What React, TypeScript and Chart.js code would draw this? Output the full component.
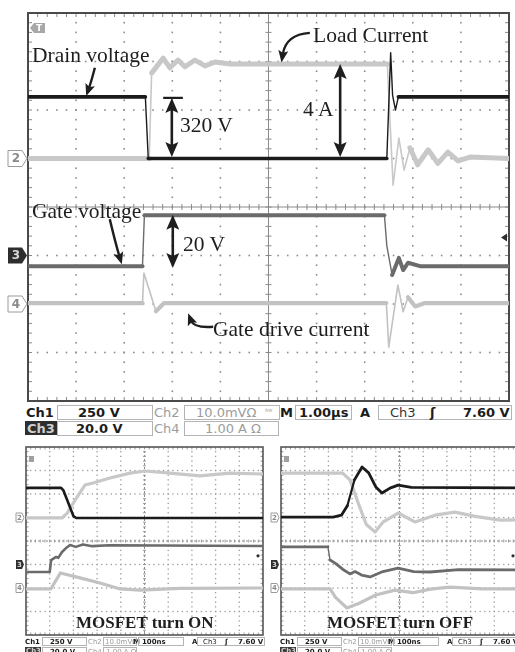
import React, { useEffect, useRef } from 'react';
import { Chart, registerables } from 'chart.js';
Chart.register(...registerables);

// ---- Values in screen divisions (x: 0..10 time div, y: -4..+4 div) ----
// Main capture, 1.00 µs/div
const mainCh1X = [0, 2.44, 2.50, 7.46, 7.50, 7.54, 7.58, 7.64, 7.70, 10];
const mainCh1Y = [2.27, 2.27, 1.0, 1.0, 2.1, 3.18, 2.3, 2.0, 2.27, 2.27];
const mainCh2X = [0, 2.52, 2.57, 2.81, 2.95, 3.12, 3.26, 3.47, 3.68, 3.89, 4.2, 7.47, 7.59, 7.71, 7.82, 7.94, 8.1, 8.32, 8.52, 8.73, 8.94, 9.19, 10];
const mainCh2Y = [1.0, 1.0, 2.76, 3.07, 2.87, 3.03, 2.89, 3.03, 2.91, 2.99, 2.95, 2.95, 0.45, 1.42, 0.76, 1.22, 0.87, 1.18, 0.9, 1.13, 0.95, 1.03, 1.0];
const mainCh3X = [0, 2.38, 2.42, 7.41, 7.46, 7.57, 7.71, 7.80, 7.90, 8.15, 10];
const mainCh3Y = [-1.22, -1.22, -0.17, -0.17, -0.8, -1.40, -1.05, -1.30, -1.15, -1.22, -1.22];
const mainCh4X = [0, 2.38, 2.41, 2.66, 2.83, 7.45, 7.50, 7.69, 7.80, 7.90, 8.05, 8.25, 10];
const mainCh4Y = [-1.98, -1.98, -1.36, -2.15, -1.98, -1.98, -2.89, -1.61, -2.16, -1.86, -2.05, -1.98, -1.98];

// Zoomed turn-on, 100 ns/div
const onCh1X = [0, 1.48, 1.58, 2.0, 2.12, 10];
const onCh1Y = [2.26, 2.26, 2.15, 1.06, 0.98, 0.98];
const onCh2X = [0, 1.52, 1.75, 2.07, 2.49, 2.83, 3.54, 4.39, 5.02, 6.08, 7.34, 8.6, 10];
const onCh2Y = [0.98, 0.98, 1.2, 1.74, 2.38, 2.47, 2.68, 2.89, 2.98, 2.89, 2.77, 2.89, 2.85];
const onCh3X = [0, 1.0, 1.06, 1.27, 1.36, 1.52, 1.69, 1.86, 2.1, 2.4, 2.8, 3.5, 10];
const onCh3Y = [-1.32, -1.32, -0.81, -0.68, -0.72, -0.47, -0.30, -0.17, -0.25, -0.15, -0.22, -0.18, -0.21];
const onCh4X = [0, 1.05, 1.45, 2.28, 3.12, 3.97, 4.8, 6.5, 10];
const onCh4Y = [-2.04, -2.04, -1.36, -1.57, -1.79, -2.04, -2.09, -2.02, -2.0];

// Zoomed turn-off, 100 ns/div
const offCh1X = [0, 2.2, 2.55, 2.8, 3.1, 3.42, 3.7, 4.0, 4.26, 4.6, 4.94, 5.5, 10];
const offCh1Y = [1.02, 1.02, 1.1, 1.5, 2.6, 3.15, 2.9, 2.3, 2.04, 2.25, 2.38, 2.28, 2.26];
const offCh2X = [0, 2.6, 2.91, 3.3, 3.6, 3.97, 4.3, 4.94, 5.3, 5.65, 6.5, 7.34, 8.2, 9.24, 10];
const offCh2Y = [2.89, 2.89, 2.6, 1.5, 0.7, 0.38, 0.8, 1.19, 1.0, 0.81, 1.1, 1.23, 1.05, 0.89, 0.9];
const offCh3X = [0, 1.98, 2.07, 2.3, 2.6, 2.91, 3.12, 3.4, 3.76, 4.3, 4.94, 5.6, 6.29, 7.5, 10];
const offCh3Y = [-0.25, -0.25, -0.81, -0.95, -1.2, -1.40, -1.30, -1.45, -1.53, -1.3, -1.15, -1.3, -1.32, -1.22, -1.23];
const offCh4X = [0, 2.07, 2.3, 2.78, 3.3, 4.0, 4.81, 5.57, 6.3, 7.13, 8.5, 10];
const offCh4Y = [-2.04, -2.04, -2.4, -2.85, -2.65, -2.3, -2.09, -2.2, -2.05, -1.96, -2.04, -2.04];

// channel reference markers (div)
const markerLabels = ['2', '3', '4'];
const markerLevels = [1.0, -1.0, -2.0];
const triggerLevel = -0.63;

// annotation arrows of the main capture (div units)
const mainArrows = [
  { kind: 'curve', from: [1.39, 2.87], ctrl: [1.32, 2.6], to: [1.21, 2.29] },
  { kind: 'double', x: 2.99, y0: 2.25, y1: 1.03, bar: [2.81, 3.22] },
  { kind: 'curve', from: [5.86, 3.59], ctrl: [5.36, 3.56], to: [5.27, 2.98] },
  { kind: 'double', x: 6.49, y0: 2.95, y1: 1.03 },
  { kind: 'curve', from: [1.70, -0.25], ctrl: [1.82, -0.75], to: [1.95, -1.18] },
  { kind: 'double', x: 3.01, y0: -0.16, y1: -1.26 },
  { kind: 'curve', from: [3.85, -2.47], ctrl: [3.45, -2.5], to: [3.33, -2.19] },
];

const mainLabels = [
  { text: 'Drain voltage', left: 32, top: 45 },
  { text: '320 V', left: 180, top: 115 },
  { text: 'Load Current', left: 313, top: 25 },
  { text: '4 A', left: 303, top: 99 },
  { text: 'Gate voltage', left: 32, top: 201 },
  { text: '20 V', left: 183, top: 234 },
  { text: 'Gate drive current', left: 213, top: 319 },
];

type Series = { x: number[]; y: number[]; color: string; width: number; thin: number };

function makePlugin(cfg: any) {
  return {
    id: 'scopeGraticule',
    beforeDatasetsDraw(chart: any) {
      const { ctx, chartArea: a } = chart;
      const X = (v: number) => chart.scales.x.getPixelForValue(v);
      const Y = (v: number) => chart.scales.y.getPixelForValue(v);
      ctx.save();
      ctx.fillStyle = cfg.dotColor;
      const d = cfg.dot;
      for (let i = 1; i < 10; i++) {
        if (i === 5) continue;
        const px = X(i);
        for (let k = 1; k < 40; k++) ctx.fillRect(px - d / 2, Y(-4 + k * 0.2) - d / 2, d, d);
      }
      for (let j = -3; j <= 3; j++) {
        if (j === 0) continue;
        const py = Y(j);
        for (let k = 1; k < 50; k++) ctx.fillRect(X(k * 0.2) - d / 2, py - d / 2, d, d);
      }
      ctx.strokeStyle = cfg.centerColor;
      ctx.lineWidth = cfg.centerWidth;
      ctx.setLineDash(cfg.centerDash);
      ctx.beginPath();
      ctx.moveTo(X(5), a.top); ctx.lineTo(X(5), a.bottom);
      ctx.moveTo(a.left, Y(0)); ctx.lineTo(a.right, Y(0));
      ctx.stroke();
      ctx.setLineDash([]);
      ctx.lineWidth = 1;
      ctx.strokeStyle = cfg.tickColor;
      const t = cfg.tick;
      ctx.beginPath();
      for (let k = 1; k < 50; k++) {
        const px = X(k * 0.2);
        ctx.moveTo(px, Y(0) - t); ctx.lineTo(px, Y(0) + t);
        ctx.moveTo(px, a.top); ctx.lineTo(px, a.top + t + 1);
        ctx.moveTo(px, a.bottom); ctx.lineTo(px, a.bottom - t - 1);
      }
      for (let k = 1; k < 40; k++) {
        const py = Y(-4 + k * 0.2);
        ctx.moveTo(X(5) - t, py); ctx.lineTo(X(5) + t, py);
        ctx.moveTo(a.left, py); ctx.lineTo(a.left + t + 1, py);
        ctx.moveTo(a.right, py); ctx.lineTo(a.right - t - 1, py);
      }
      ctx.stroke();
      ctx.lineWidth = cfg.borderWidth;
      ctx.strokeStyle = cfg.borderColor;
      ctx.strokeRect(a.left, a.top, a.width, a.height);
      ctx.restore();
    },
    afterDatasetsDraw(chart: any) {
      const { ctx } = chart;
      const X = (v: number) => chart.scales.x.getPixelForValue(v);
      const Y = (v: number) => chart.scales.y.getPixelForValue(v);
      ctx.save();
      ctx.strokeStyle = '#1e1e1e';
      ctx.fillStyle = '#1e1e1e';
      const head = (x0: number, y0: number, x1: number, y1: number, len: number, wid: number) => {
        const ang = Math.atan2(y1 - y0, x1 - x0);
        const c = Math.cos(ang), s = Math.sin(ang);
        ctx.beginPath();
        ctx.moveTo(x1, y1);
        ctx.lineTo(x1 - len * c + (wid / 2) * s, y1 - len * s - (wid / 2) * c);
        ctx.lineTo(x1 - len * 0.8 * c, y1 - len * 0.8 * s);
        ctx.lineTo(x1 - len * c - (wid / 2) * s, y1 - len * s + (wid / 2) * c);
        ctx.closePath();
        ctx.fill();
      };
      for (const ar of cfg.arrows || []) {
        if (ar.kind === 'double') {
          const px = X(ar.x), pa = Y(ar.y0), pb = Y(ar.y1);
          ctx.lineWidth = 2.6;
          ctx.beginPath(); ctx.moveTo(px, pa + 10); ctx.lineTo(px, pb - 10); ctx.stroke();
          head(px, pb, px, pa, 15, 13);
          head(px, pa, px, pb, 15, 13);
          if (ar.bar) {
            ctx.lineWidth = 2.2;
            ctx.beginPath(); ctx.moveTo(X(ar.bar[0]), pa); ctx.lineTo(X(ar.bar[1]), pa); ctx.stroke();
          }
        } else {
          const [fx, fy] = [X(ar.from[0]), Y(ar.from[1])];
          const [cx, cy] = [X(ar.ctrl[0]), Y(ar.ctrl[1])];
          const [tx, ty] = [X(ar.to[0]), Y(ar.to[1])];
          const ang = Math.atan2(ty - cy, tx - cx);
          ctx.lineWidth = 2.4;
          ctx.beginPath();
          ctx.moveTo(fx, fy);
          ctx.quadraticCurveTo(cx, cy, tx - 8 * Math.cos(ang), ty - 8 * Math.sin(ang));
          ctx.stroke();
          head(cx, cy, tx, ty, 12, 10);
        }
      }
      ctx.restore();
    },
    afterDraw(chart: any) {
      const { ctx, chartArea: a } = chart;
      const Y = (v: number) => chart.scales.y.getPixelForValue(v);
      ctx.save();
      const m = cfg.marker;
      markerLabels.forEach((lab, i) => {
        const py = Y(markerLevels[i]);
        const r = a.left - m.gap;
        const filled = lab === '3';
        ctx.beginPath();
        ctx.moveTo(r - m.w, py - m.h / 2);
        ctx.lineTo(r - m.tip, py - m.h / 2);
        ctx.lineTo(r, py);
        ctx.lineTo(r - m.tip, py + m.h / 2);
        ctx.lineTo(r - m.w, py + m.h / 2);
        ctx.closePath();
        if (filled) {
          ctx.fillStyle = '#2e2e2e';
          ctx.fill();
        } else {
          ctx.fillStyle = '#ffffff';
          ctx.fill();
          ctx.strokeStyle = '#9a9a9a';
          ctx.lineWidth = 1;
          ctx.stroke();
        }
        ctx.fillStyle = filled ? '#d8d8d8' : '#8a8a8a';
        ctx.font = `bold ${m.font}px "DejaVu Sans", sans-serif`;
        ctx.textAlign = 'center';
        ctx.textBaseline = 'middle';
        ctx.fillText(lab, r - m.w / 2 - m.tip / 3, py + 0.5);
      });
      // trigger level indicator on the right
      const ty = Y(triggerLevel);
      ctx.fillStyle = '#2e2e2e';
      if (cfg.big) {
        ctx.beginPath();
        ctx.moveTo(a.right - 8, ty);
        ctx.lineTo(a.right - 2, ty - 4);
        ctx.lineTo(a.right - 2, ty + 4);
        ctx.closePath();
        ctx.fill();
        // trigger tag top-left
        ctx.fillStyle = '#a8a8a8';
        ctx.beginPath();
        ctx.moveTo(a.left + 2, a.top + 15);
        ctx.lineTo(a.left + 6, a.top + 10);
        ctx.lineTo(a.left + 17, a.top + 10);
        ctx.lineTo(a.left + 17, a.top + 20);
        ctx.lineTo(a.left + 6, a.top + 20);
        ctx.closePath();
        ctx.fill();
        ctx.fillStyle = '#ffffff';
        ctx.font = 'bold 9px "DejaVu Sans", sans-serif';
        ctx.textAlign = 'center';
        ctx.textBaseline = 'middle';
        ctx.fillText('T', a.left + 11, a.top + 15.5);
      } else {
        ctx.beginPath();
        ctx.arc(a.right - 5, ty, 1.6, 0, Math.PI * 2);
        ctx.fill();
        ctx.fillStyle = '#a0a0a0';
        ctx.fillRect(a.left + 3, a.top + 9, 5, 6);
      }
      ctx.restore();
    },
  };
}

function Scope(props: any) {
  const ref = useRef<HTMLCanvasElement>(null);
  useEffect(() => {
    const canvas = ref.current!;
    const series: Series[] = props.series;
    const chart = new Chart(canvas, {
      type: 'line',
      data: {
        datasets: series.map((s) => ({
          data: s.x.map((x, i) => ({ x, y: s.y[i] })),
          borderColor: s.color,
          borderWidth: s.width,
          pointRadius: 0,
          tension: 0,
          fill: false,
          borderJoinStyle: 'round',
          borderCapStyle: 'round',
          segment: {
            borderWidth: (c: any) => {
              const dx = Math.abs(c.p1.x - c.p0.x);
              const dy = Math.abs(c.p1.y - c.p0.y);
              return dy > 3 * dx && dy > 12 ? s.thin : s.width;
            },
          },
        })),
      },
      options: {
        responsive: false,
        animation: false,
        events: [],
        layout: { padding: props.padding },
        plugins: { legend: { display: false }, tooltip: { enabled: false } },
        scales: {
          x: { type: 'linear', min: 0, max: 10, display: false },
          y: { type: 'linear', min: -4, max: 4, display: false },
        },
      } as any,
      plugins: [makePlugin(props.cfg)],
    });
    return () => chart.destroy();
  }, []);
  return (
    <canvas
      ref={ref}
      width={props.w}
      height={props.h}
      style={{ position: 'absolute', left: props.left, top: props.top, width: props.w, height: props.h }}
    />
  );
}

const C1 = '#1b1b1b';
const C2 = '#c8c8c8';
const C3 = '#6b6b6b';
const C4 = '#c2c2c2';

const mainSeries: Series[] = [
  { x: mainCh1X, y: mainCh1Y, color: C1, width: 3.6, thin: 1.4 },
  { x: mainCh3X, y: mainCh3Y, color: C3, width: 4, thin: 1.4 },
  { x: mainCh2X, y: mainCh2Y, color: C2, width: 5, thin: 1.6 },
  { x: mainCh4X, y: mainCh4Y, color: C4, width: 4.2, thin: 1.6 },
];
const onSeries: Series[] = [
  { x: onCh1X, y: onCh1Y, color: C1, width: 2.6, thin: 2 },
  { x: onCh3X, y: onCh3Y, color: C3, width: 2.6, thin: 1.4 },
  { x: onCh2X, y: onCh2Y, color: C2, width: 3.2, thin: 2 },
  { x: onCh4X, y: onCh4Y, color: C4, width: 3.2, thin: 1.6 },
];
const offSeries: Series[] = [
  { x: offCh1X, y: offCh1Y, color: C1, width: 2.8, thin: 2.2 },
  { x: offCh3X, y: offCh3Y, color: C3, width: 2.8, thin: 1.4 },
  { x: offCh2X, y: offCh2Y, color: C2, width: 3.2, thin: 2.2 },
  { x: offCh4X, y: offCh4Y, color: C4, width: 3.2, thin: 2 },
];

const mainCfg = {
  big: true,
  dot: 1.6,
  dotColor: '#8c8c8c',
  centerColor: '#8a8a8a',
  centerWidth: 1,
  centerDash: [],
  tickColor: '#8a8a8a',
  tick: 3,
  borderWidth: 2,
  borderColor: '#4a4a4a',
  arrows: mainArrows,
  marker: { gap: 1, w: 19, h: 16, tip: 5, font: 12 },
};
const smallCfg = {
  big: false,
  dot: 1.3,
  dotColor: '#9a9a9a',
  centerColor: '#8a8a8a',
  centerWidth: 1,
  centerDash: [2, 2],
  tickColor: '#9a9a9a',
  tick: 1.5,
  borderWidth: 1.6,
  borderColor: '#555555',
  arrows: [],
  marker: { gap: 2, w: 8, h: 9, tip: 2, font: 7 },
};

const mono = '"DejaVu Sans", Verdana, sans-serif';

function Txt(p: any) {
  return (
    <div
      style={{
        position: 'absolute',
        left: p.left,
        top: p.top,
        fontFamily: mono,
        fontSize: p.size || 13,
        lineHeight: `${p.lh || 13}px`,
        fontWeight: p.bold ? 'bold' : 'normal',
        color: p.color || '#1c1c1c',
        whiteSpace: 'nowrap',
        ...(p.style || {}),
      }}
    >
      {p.children}
    </div>
  );
}

function Cell(p: any) {
  return (
    <div
      style={{
        position: 'absolute',
        left: p.left,
        top: p.top,
        width: p.width,
        height: p.height || 15,
        boxSizing: 'border-box',
        border: `1px solid ${p.border || '#b4b4b4'}`,
      }}
    />
  );
}

function MainInfo() {
  const r1 = 405;
  const r2 = 421;
  return (
    <>
      <Txt left={26} top={r1 + 1} bold>Ch1</Txt>
      <Cell left={57} top={r1} width={96} />
      <Txt left={78} top={r1 + 1} bold>250 V</Txt>
      <Txt left={154} top={r1 + 1} color="#9c9c9c">Ch2</Txt>
      <Cell left={184} top={r1} width={96} />
      <Txt left={196} top={r1 + 1} color="#9c9c9c">10.0mVΩ</Txt>
      <Txt left={265} top={r1 + 1} size={7} color="#9c9c9c">ᴮᵂ</Txt>
      <Txt left={280} top={r1 + 1} bold>M</Txt>
      <Cell left={295} top={r1} width={57} />
      <Txt left={299} top={r1 + 1} bold>1.00µs</Txt>
      <Txt left={360} top={r1 + 1} bold>A</Txt>
      <Cell left={378} top={r1} width={134} />
      <Txt left={390} top={r1 + 1} color="#333">Ch3</Txt>
      <Txt left={430} top={r1 + 1} bold>ʃ</Txt>
      <Txt left={463} top={r1 + 1} bold>7.60 V</Txt>

      <div style={{ position: 'absolute', left: 25, top: r2, width: 32, height: 14, background: '#2e2e2e' }} />
      <Txt left={27} top={r2 + 1} bold color="#cfcfcf">Ch3</Txt>
      <Cell left={57} top={r2} width={96} />
      <Txt left={76} top={r2 + 1} bold>20.0 V</Txt>
      <Txt left={154} top={r2 + 1} color="#9c9c9c">Ch4</Txt>
      <Cell left={184} top={r2} width={95} />
      <Txt left={205} top={r2 + 1} color="#9c9c9c">1.00 A Ω</Txt>
    </>
  );
}

function MiniInfo(p: any) {
  const x = p.x;
  const r1 = 638;
  const r2 = 647;
  const s = 7;
  return (
    <>
      <Txt left={x - 1} top={r1} size={s} lh={8} bold>Ch1</Txt>
      <Cell left={x + 16} top={r1 - 1} width={45} height={9} />
      <Txt left={x + 24} top={r1} size={s} lh={8} bold>250 V</Txt>
      <Txt left={x + 62} top={r1} size={s} lh={8} color="#9c9c9c">Ch2</Txt>
      <Cell left={x + 77} top={r1 - 1} width={34} height={9} />
      <Txt left={x + 79} top={r1} size={s} lh={8} color="#9c9c9c">10.0mVΩ</Txt>
      <Txt left={x + 107} top={r1} size={s} lh={8} bold>M</Txt>
      <Cell left={x + 112} top={r1 - 1} width={46} height={9} />
      <Txt left={x + 116} top={r1} size={s} lh={8} bold>100ns</Txt>
      <Txt left={x + 166} top={r1} size={s} lh={8} bold>A</Txt>
      <Cell left={x + 171} top={r1 - 1} width={68} height={9} />
      <Txt left={x + 177} top={r1} size={s} lh={8}>Ch3</Txt>
      <Txt left={x + 199} top={r1} size={s} lh={8} bold>ʃ</Txt>
      <Txt left={x + 212} top={r1} size={s} lh={8} bold>7.60 V</Txt>

      <div style={{ position: 'absolute', left: x - 1, top: r2, width: 16, height: 8, background: '#3a3a3a' }} />
      <Txt left={x} top={r2} size={s} lh={8} bold color="#cfcfcf">Ch3</Txt>
      <Cell left={x + 16} top={r2} width={45} height={9} />
      <Txt left={x + 24} top={r2 + 1} size={s} lh={8} bold>20.0 V</Txt>
      <Txt left={x + 62} top={r2 + 1} size={s} lh={8} color="#9c9c9c">Ch4</Txt>
      <Cell left={x + 77} top={r2} width={34} height={9} />
      <Txt left={x + 80} top={r2 + 1} size={s} lh={8} color="#9c9c9c">1.00 A Ω</Txt>
    </>
  );
}

const serif = '"Liberation Serif", "Times New Roman", serif';

export default function App() {
  return (
    <div
      style={{
        position: 'absolute',
        left: 0,
        top: 0,
        width: 515,
        height: 652,
        overflow: 'hidden',
        background: '#ffffff',
      }}
    >
      <Scope left={0} top={0} w={515} h={403} padding={{ left: 28, top: 13, right: 6, bottom: 2 }} series={mainSeries} cfg={mainCfg} />
      <Scope left={0} top={440} w={268} h={200} padding={{ left: 26, top: 7, right: 5, bottom: 5 }} series={onSeries} cfg={smallCfg} />
      <Scope left={268} top={440} w={255} h={200} padding={{ left: 13, top: 7, right: 5, bottom: 5 }} series={offSeries} cfg={smallCfg} />

      {mainLabels.map((l) => (
        <div
          key={l.text}
          style={{
            position: 'absolute',
            left: l.left,
            top: l.top,
            fontFamily: serif,
            fontSize: 21.5,
            lineHeight: '21px',
            color: '#1e1e1e',
            whiteSpace: 'nowrap',
          }}
        >
          {l.text}
        </div>
      ))}

      <div style={{ position: 'absolute', left: 76, top: 614, fontFamily: serif, fontWeight: 'bold', fontSize: 17, lineHeight: '17px', color: '#1e1e1e', whiteSpace: 'nowrap' }}>
        MOSFET turn ON
      </div>
      <div style={{ position: 'absolute', left: 327, top: 614, fontFamily: serif, fontWeight: 'bold', fontSize: 17, lineHeight: '17px', color: '#1e1e1e', whiteSpace: 'nowrap' }}>
        MOSFET turn OFF
      </div>

      <MainInfo />
      <MiniInfo x={26} />
      <MiniInfo x={281} />
    </div>
  );
}
